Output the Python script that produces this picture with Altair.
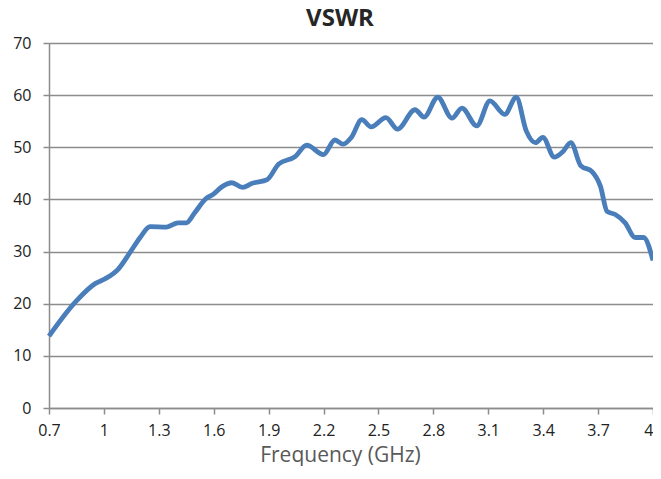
import altair as alt
import pandas as pd

freq = [0.70, 0.846, 0.954, 1.008, 1.080, 1.144, 1.198, 1.252, 1.342, 1.405,
        1.450, 1.495, 1.559, 1.594, 1.648, 1.699, 1.757, 1.811, 1.892, 1.955,
        2.045, 2.108, 2.199, 2.262, 2.307, 2.352, 2.409, 2.460, 2.541, 2.604,
        2.700, 2.749, 2.824, 2.902, 2.956, 3.037, 3.109, 3.190, 3.253, 3.308,
        3.358, 3.398, 3.461, 3.506, 3.551, 3.605, 3.668, 3.713, 3.749, 3.794,
        3.848, 3.902, 3.948, 4.0]
vswr = [13.8, 20.4, 23.9, 24.8, 26.7, 29.9, 32.7, 34.8, 34.7, 35.5,
        35.5, 37.4, 40.2, 40.9, 42.5, 43.2, 42.3, 43.1, 43.8, 46.8,
        48.2, 50.4, 48.6, 51.4, 50.6, 51.9, 55.3, 53.9, 55.7, 53.5,
        57.2, 55.8, 59.6, 55.6, 57.5, 54.1, 58.9, 56.3, 59.6, 53.1,
        50.9, 51.9, 48.1, 49.1, 50.9, 46.5, 45.3, 42.5, 37.7, 37.1,
        35.5, 32.7, 32.7, 28.3]
x_ticks = [0.7, 1.0, 1.3, 1.6, 1.9, 2.2, 2.5, 2.8, 3.1, 3.4, 3.7, 4.0]
y_ticks = [0, 10, 20, 30, 40, 50, 60, 70]
title_text = ["VSWR"]

df = pd.DataFrame({"freq": freq, "vswr": vswr})
tdf = pd.DataFrame({"t": title_text})

FONT = "Open Sans"
GRID = "#8c8c8c"

line = alt.Chart(df).mark_line(
    color="#4a7ebb", strokeWidth=4.8, interpolate="monotone"
).encode(
    x=alt.X("freq:Q",
            scale=alt.Scale(domain=[0.7, 4.0], nice=False, zero=False),
            axis=alt.Axis(values=x_ticks, format="~g", title="Frequency (GHz)",
                          grid=False, domain=True, domainColor=GRID, domainWidth=1.5,
                          ticks=True, tickColor=GRID, tickSize=6, tickWidth=1.5,
                          labelFont=FONT, labelFontSize=16, labelColor="#222222",
                          labelPadding=8, labelFlush=False, labelOverlap=False,
                          labelAlign={"condition": {"test": "datum.value >= 4",
                                                    "value": "right"},
                                      "value": "center"},
                          titleFont=FONT, titleFontSize=21, titleFontWeight="normal",
                          titleColor="#595959", titleX=291, titleY=53,
                          titleBaseline="alphabetic", titleAlign="center")),
    y=alt.Y("vswr:Q",
            scale=alt.Scale(domain=[0, 70], nice=False),
            axis=alt.Axis(values=y_ticks, title=None,
                          grid=True, gridColor=GRID, gridWidth=1.5, gridOpacity=1,
                          domain=True, domainColor=GRID, domainWidth=1.5,
                          ticks=True, tickColor=GRID, tickSize=6, tickWidth=1.5,
                          labelFont=FONT, labelFontSize=16, labelColor="#222222",
                          labelPadding=12)),
)

title = alt.Chart(tdf).mark_text(
    font=FONT, fontSize=24, fontWeight="bold", color="#262626",
    align="center", baseline="alphabetic"
).encode(
    text="t:N",
    x=alt.value(291),
    y=alt.value(-17),
)

chart = alt.layer(line, title).properties(
    width=604,
    height=365,
    autosize=alt.AutoSizeParams(type="none"),
    padding={"left": 41, "top": 35, "right": 0, "bottom": 58},
).configure_view(stroke=None)

chart.save("out.html", embed_options={"renderer": "svg", "actions": False})
